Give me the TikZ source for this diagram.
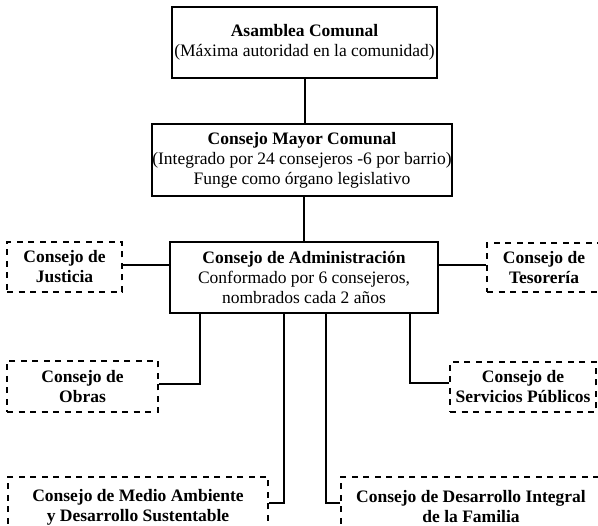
\documentclass[tikz,border=0pt]{standalone}
\usepackage{fontspec}
\setmainfont{Liberation Serif}
\begin{document}
\begin{tikzpicture}[x=1pt,y=-1pt,
  every node/.style={font=\fontsize{17.5}{20}\selectfont, align=center, inner sep=0pt},
  solidbox/.style={draw, line width=2pt, minimum width=#1},
  dbox/.style={draw, line width=1.8pt, dash pattern=on 6pt off 5.5pt},
  conn/.style={line width=2pt}]
\useasboundingbox (0,0) rectangle (598,526);
\clip (0,0) rectangle (598,526);
% main boxes
\node[solidbox=265pt, minimum height=71pt] (asam) at (304.5,42.5) {\textbf{Asamblea Comunal}\\(Máxima autoridad en la comunidad)};
\node[solidbox=296pt, minimum height=72pt] (mayor) at (302,160) {\textbf{Consejo Mayor Comunal}\\(Integrado por 24 consejeros -6 por barrio)\\Funge como órgano legislativo};
\node[solidbox=268pt, minimum height=71pt] (admin) at (304,277.5) {\textbf{Consejo de Administración}\\Conformado por 6 consejeros,\\nombrados cada 2 años};
% dashed boxes
\node[dbox, minimum width=115pt, minimum height=50pt] (just) at (64.5,267) {\textbf{Consejo de}\\\textbf{Justicia}};
\node[dbox, minimum width=114pt, minimum height=49pt] (teso) at (544,267.5) {\textbf{Consejo de}\\\textbf{Tesorería}};
\node[dbox, minimum width=151pt, minimum height=51pt] (obras) at (82.5,386.5) {\textbf{Consejo de}\\\textbf{Obras}};
\node[dbox, minimum width=146pt, minimum height=50pt] (serv) at (523,387) {\textbf{Consejo de}\\\textbf{Servicios Públicos}};
\node[dbox, minimum width=260pt, minimum height=60pt] (medio) at (138,507) {\textbf{Consejo de Medio Ambiente}\\\textbf{y Desarrollo Sustentable}};
\node[dbox, minimum width=260pt, minimum height=60pt] (fam) at (471,507) {\textbf{Consejo de Desarrollo Integral}\\\textbf{de la Familia}};
% connectors
\draw[conn] (asam.south) -- (asam.south |- mayor.north);
\draw[conn] ([xshift=2pt]mayor.south) -- ([xshift=2pt]mayor.south |- admin.north);
\draw[conn] ([yshift=2pt]just.east) -- ([yshift=2pt]just.east -| admin.west);
\draw[conn] ([yshift=2pt]teso.west) -- ([yshift=2pt]teso.west -| admin.east);
\draw[conn] ([xshift=-104pt]admin.south) |- ([yshift=2pt]obras.east);
\draw[conn] ([xshift=106pt]admin.south) |- ([yshift=4pt]serv.west);
\draw[conn] ([xshift=-20pt]admin.south) |- ([yshift=4pt]medio.east);
\draw[conn] ([xshift=22pt]admin.south) |- ([yshift=4pt]fam.west);
\end{tikzpicture}
\end{document}
